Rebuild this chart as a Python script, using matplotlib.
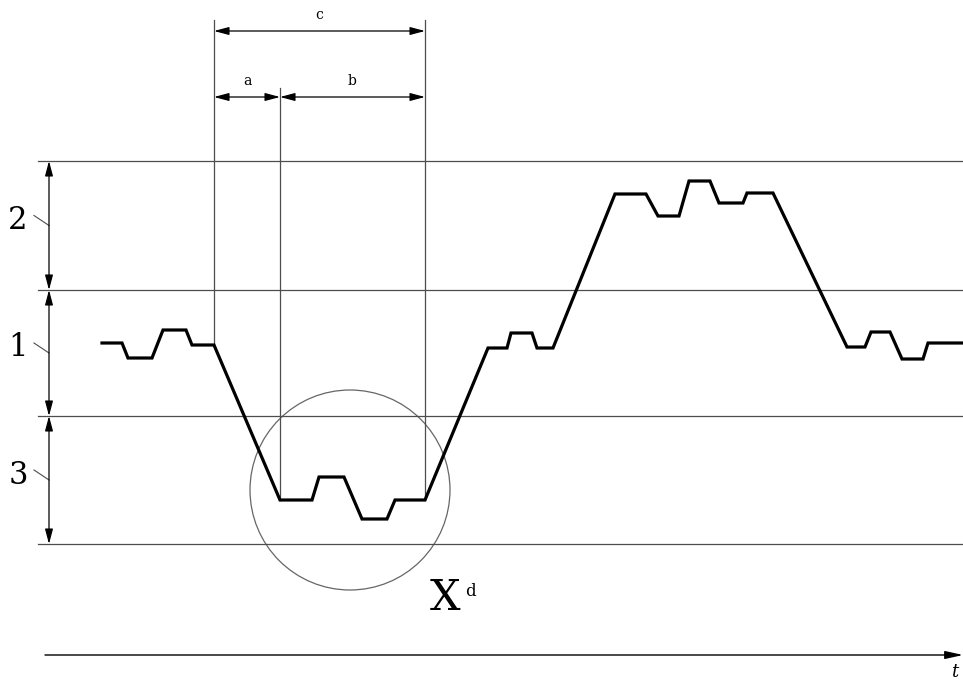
import numpy as np
import matplotlib
matplotlib.use("Agg")
import matplotlib.pyplot as plt
from matplotlib.patches import Circle

# signal trace (pixel units, y grows downwards)
curve_x = [102, 122, 128, 152, 163, 186, 192, 214, 280, 312, 319, 344, 362, 387,
           395, 425, 488, 507, 511, 532, 537, 553, 615, 646, 658, 679, 689, 710,
           719, 743, 747, 773, 847, 865, 871, 890, 902, 923, 928, 963]
curve_y = [343, 343, 358, 358, 330, 330, 345, 345, 500, 500, 477, 477, 519, 519,
           500, 500, 348, 348, 333, 333, 348, 348, 194, 194, 216, 216, 181, 181,
           203, 203, 193, 193, 347, 347, 332, 332, 359, 359, 343, 343]

# band boundaries and the three bands (label, top, bottom)
levels = [161, 290, 416, 544]
bands = [("2", 161, 290), ("1", 290, 416), ("3", 416, 544)]

# vertical guide lines: x, top, bottom
guides = [(214, 20, 345), (280, 88, 500), (425, 20, 500)]
# dimension arrows: label, x0, x1, y
dims = [("c", 214, 425, 31), ("a", 214, 280, 97), ("b", 280, 425, 97)]

fig = plt.figure(figsize=(9.63, 6.8), dpi=100)
ax = fig.add_axes([0, 0, 1, 1])
ax.set_xlim(0, 963)
ax.set_ylim(680, 0)
ax.axis("off")

serif = "DejaVu Serif"
thin = "#4d4d4d"

for y in levels:
    ax.plot([38, 963], [y, y], color=thin, lw=0.9)

for x, y0, y1 in guides:
    ax.plot([x, x], [y0, y1], color=thin, lw=0.9)

head = "<|-|>,head_length=0.75,head_width=0.2"
for lab, x0, x1, y in dims:
    ax.annotate("", xy=(x0, y), xytext=(x1, y),
                arrowprops=dict(arrowstyle=head, color="black", lw=0.9,
                                shrinkA=0, shrinkB=0, mutation_scale=12))
    ax.text((x0 + x1) / 2, y - 9, lab, fontsize=10, family=serif,
            ha="center", va="bottom")

for lab, y0, y1 in bands:
    ax.annotate("", xy=(49, y0), xytext=(49, y1),
                arrowprops=dict(arrowstyle=head, color="black", lw=0.9,
                                shrinkA=0, shrinkB=0, mutation_scale=12))
    ym = (y0 + y1) / 2
    ax.plot([34, 49], [ym - 10, ym], color=thin, lw=0.8)
    ax.text(18, ym - 5, lab, fontsize=22, family=serif, ha="center", va="center")

ax.plot(curve_x, curve_y, color="black", lw=2.3, solid_joinstyle="miter")

ax.add_patch(Circle((350, 490), 100, fill=False, ec="#666666", lw=0.9))
ax.text(445, 598, "X", fontsize=31, family=serif, ha="center", va="center")
ax.text(470, 592, "d", fontsize=12, family=serif, ha="center", va="center")

ax.annotate("", xy=(963, 655), xytext=(45, 655),
            arrowprops=dict(arrowstyle="-|>,head_length=0.9,head_width=0.2",
                            color="black", lw=1.0, shrinkA=0, shrinkB=0,
                            mutation_scale=12))
ax.text(955, 672, "t", fontsize=13, family=serif, style="italic",
        ha="center", va="center")

fig.savefig("out.png", dpi=100)
